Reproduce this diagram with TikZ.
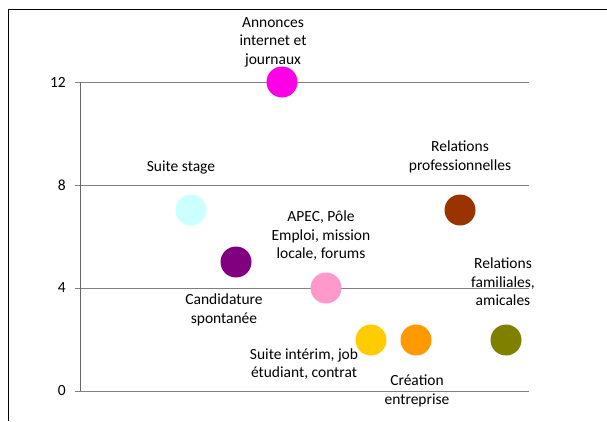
\documentclass[tikz,border=0pt]{standalone}
\usepackage{fontspec}
\setmainfont{Carlito}
\begin{document}
\begin{tikzpicture}[x=1pt,y=-1pt,
  grid/.style={draw=black!50,line width=1pt},
  bubble/.style={circle,inner sep=0pt,minimum size=31pt},
  lbl/.style={align=center,font=\fontsize{15.5}{18.5}\selectfont,inner sep=0pt},
  tick/.style={anchor=east,font=\fontsize{15.5}{18}\selectfont,inner sep=0pt}]
\useasboundingbox (0,0) rectangle (607,421);
\fill[white] (0,0) rectangle (607,421);
% frame
\draw[line width=0.9pt] (8,421) -- (8,9) -- (607,9);
% grid
\foreach \v/\yy in {0/391,4/288,8/185,12/82}{
  \draw[grid] (75,\yy) -- (529,\yy);
  \node[tick] (t\v) at (66,\yy) {\v};
}
\draw[draw=black!60,line width=1pt] (80,82) -- (80,391);
% bubbles
\node[bubble,fill={rgb,255:red,255;green,0;blue,230}] (ann) at (282,82) {};
\node[bubble,fill={rgb,255:red,204;green,255;blue,255}] (sta) at (191,210) {};
\node[bubble,fill={rgb,255:red,128;green,0;blue,128}] (can) at (236,262) {};
\node[bubble,fill={rgb,255:red,255;green,153;blue,204}] (ape) at (326,288) {};
\node[bubble,fill={rgb,255:red,153;green,51;blue,0}] (rpr) at (460,210) {};
\node[bubble,fill={rgb,255:red,255;green,204;blue,0}] (int) at (371,340) {};
\node[bubble,fill={rgb,255:red,255;green,153;blue,0}] (cre) at (416,340) {};
\node[bubble,fill={rgb,255:red,128;green,128;blue,0}] (fam) at (506,340) {};
% labels
\node[lbl] (lann) at (273,42) {Annonces\\internet et\\journaux};
\node[lbl] (lsta) at (181,167) {Suite stage};
\node[lbl] (lcan) at (224,310) {Candidature\\spontanée};
\node[lbl] (lape) at (321,236) {APEC, Pôle\\Emploi, mission\\locale, forums};
\node[lbl] (lrpr) at (460,157) {Relations\\professionnelles};
\node[lbl] (lint) at (304,364) {Suite intérim, job\\étudiant, contrat};
\node[lbl] (lcre) at (417,391) {Création\\entreprise};
\node[lbl] (lfam) at (503,282) {Relations\\familiales,\\amicales};
\end{tikzpicture}
\end{document}
